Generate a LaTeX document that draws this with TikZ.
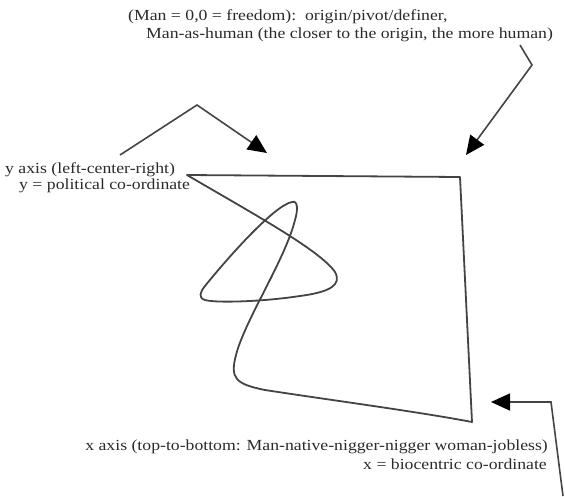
\documentclass[tikz,border=0pt]{standalone}
\usepackage{fontspec}
\newfontfamily\figfont[FakeStretch=1.15]{Liberation Serif}
\usetikzlibrary{arrows.meta}
\definecolor{inkgray}{HTML}{2A2A2A}
\definecolor{linegray}{HTML}{444444}
\tikzset{
  lbl/.style     = {font=\figfont\fontsize{15.4}{18}\selectfont, text=inkgray, inner sep=0pt},
  pointer/.style = {draw=linegray, line width=1.6pt, line join=miter,
                    -{Triangle[length=19pt,width=17pt,color=black]}},
  curve/.style   = {draw=linegray, line width=1.8pt, line join=round},
}

\begin{document}
\begin{tikzpicture}[x=1pt,y=-1pt]
\useasboundingbox (0,0) rectangle (565,496);
% labels
\node[lbl, anchor=base west] (man1) at (128,20) {(Man = 0,0 = freedom):\ \ origin/pivot/definer,};
\node[lbl, anchor=base west] (man2) at (146,38) {Man-as-human (the closer to the origin, the more human)};
\node[lbl, anchor=base west] (ylab1) at (5,173) {y axis (left-center-right)};
\node[lbl, anchor=base west] (ylab2) at (19,189) {y = political co-ordinate};
\node[lbl, anchor=base east] (xlab1) at (548,450) {x axis (top-to-bottom: Man-native-nigger-nigger woman-jobless)};
\node[lbl, anchor=base east] (xlab2) at (547,469) {x = biocentric co-ordinate};

% corners of the figure
\coordinate (tl) at (187,175);
\coordinate (tr) at (460,177);
\coordinate (br) at (472,422);

% the figure
\draw[curve] (tl) .. controls (250,212) and (320,250) .. (335,272)
  .. controls (342,285) and (330,292) .. (300,296)
  .. controls (260,302) and (215,303) .. (205,300)
  .. controls (198,298) and (200,292) .. (205,286)
  .. controls (230,255) and (275,205) .. (292,202)
  .. controls (298,200) and (298,210) .. (295,220)
  .. controls (285,260) and (245,320) .. (236,355)
  .. controls (230,378) and (235,384) .. (265,390)
  .. controls (330,400) and (420,412) .. (br)
  -- (tr) -- cycle;

% pointers
\coordinate (ystart) at (120,155);
\coordinate (ybend)  at (197,105);
\coordinate (ytip)   at (267,153);
\draw[pointer] (ystart) -- (ybend) -- (ytip);

\coordinate (mstart) at (520,45);
\coordinate (mbend)  at (532,65);
\coordinate (mtip)   at (466,155);
\draw[pointer] (mstart) -- (mbend) -- (mtip);

\coordinate (xstart) at (563,496);
\coordinate (xbend)  at (551,402);
\coordinate (xtip)   at (491,402);
\draw[pointer] (xstart) -- (xbend) -- (xtip);
\end{tikzpicture}
\end{document}
